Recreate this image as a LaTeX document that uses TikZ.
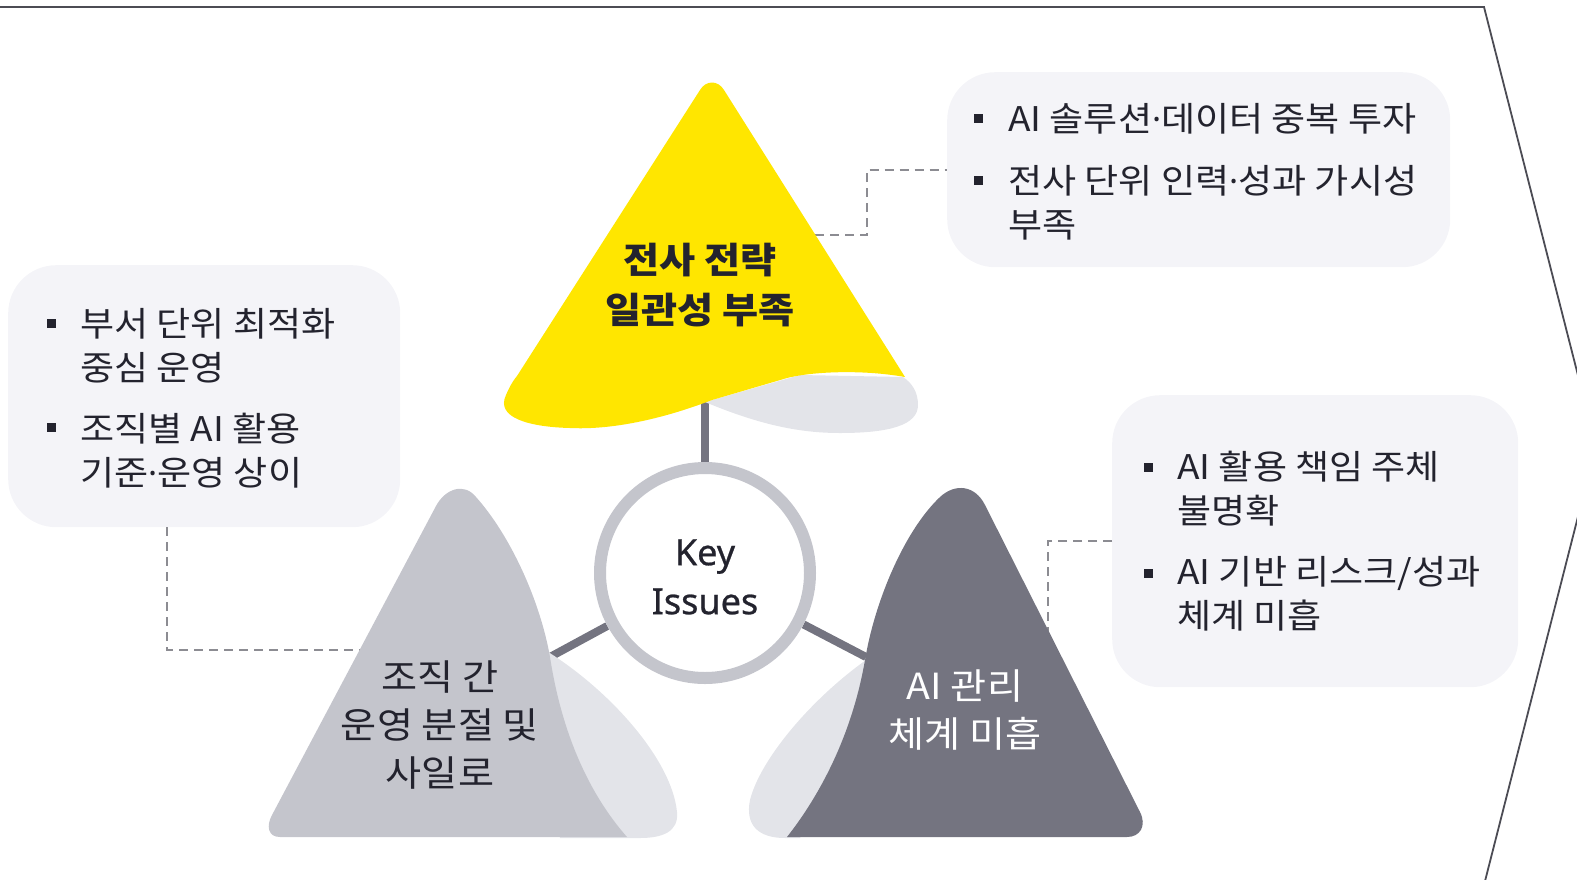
\documentclass[tikz,border=0pt]{standalone}
\usepackage{fontspec}
\setmainfont{Noto Sans CJK KR}[FakeStretch=1.09]
\newfontfamily\latinsans{Noto Sans}
\newfontfamily\keyfont{Noto Sans}[FakeBold=0.7]
\newcommand{\mdot}{{\latinsans ·}}
\definecolor{eyyellow}{HTML}{FFE600}
\definecolor{lobegray}{HTML}{E3E4E9}
\definecolor{midgray}{HTML}{C4C5CC}
\definecolor{darkgray}{HTML}{747480}
\definecolor{boxfill}{HTML}{F4F4F8}
\definecolor{ink}{HTML}{23232E}
\definecolor{dashgray}{HTML}{8C8C92}
\definecolor{framegray}{HTML}{4C4C54}
\begin{document}
\begin{tikzpicture}[x=1pt,y=-1pt,
  boxst/.style={fill=boxfill, rounded corners=48pt, inner sep=0pt, anchor=north west},
  itemtxt/.style={font=\fontsize{34}{44}\selectfont, text=ink, align=left, inner sep=0pt, anchor=base west},
  tritext/.style={align=center, inner sep=0pt, text=ink},
  keyst/.style={circle, draw=midgray, line width=12pt, fill=white, minimum size=210pt, inner sep=0pt,
    align=center, text=ink, font=\keyfont\fontsize{36}{49}\selectfont},
  keyarea/.style={circle, minimum size=222pt, inner sep=0pt},
  dashline/.style={draw=dashgray, line width=2.2pt, dash pattern=on 9pt off 6pt},
  link/.style={draw=darkgray, line width=8pt},
  bulletsq/.style={fill=ink}
]
\useasboundingbox (0,0) rectangle (1577,879);
\clip (0,0) rectangle (1577,879);

% frame
\draw[framegray, line width=1.8pt, line join=miter] (-5,7) -- (1484,7) -- (1596,446) -- (1484,885);

% boxes
\node[boxst, minimum width=503pt, minimum height=195pt] (b1) at (947,72) {};
\node[boxst, minimum width=392pt, minimum height=262pt] (b2) at (8,265) {};
\node[boxst, minimum width=406pt, minimum height=292pt] (b3) at (1112,395) {};

% coordinates
\coordinate (yr) at (815,235);
\coordinate (lx) at (167,0);
\coordinate (gl) at (368,650);
\coordinate (dr) at (1048,645);
\coordinate (ya) at (705,398);
\coordinate (ga) at (550,657);
\coordinate (da) at (866,657);

% dashed connectors
\draw[dashline] (yr) -- (867,235) |- (b1.west);
\draw[dashline] (b2.south -| lx) |- (gl);
\draw[dashline] (b3.west) -| (dr);

% area of the key circle (invisible) for the links
\node[keyarea] (keyzone) at (705,573) {};

% links
\draw[link] (ya) -- (keyzone);
\draw[link] (keyzone) -- (ga);
\draw[link] (keyzone) -- (da);

% top yellow shape
\fill[lobegray] (705,402) .. controls (760,425) and (800,433) .. (840,433) .. controls (890,433) and (918,425) .. (918,405) .. controls (918,392) and (912,383) .. (903,377) -- (800,375) -- cycle;
\fill[eyyellow] (517,376) -- (700,90) .. controls (706,80) and (718,80) .. (724,90) -- (905,377) .. controls (860,369) and (810,372) .. (787,378) -- (712,400) .. controls (660,420) and (610,430) .. (570,428) .. controls (530,427) and (495,418) .. (506,395) .. controls (509,388) and (512,382) .. (517,376) -- cycle;

% lower-left gray shape
\fill[lobegray] (545,650) .. controls (610,690) and (672,760) .. (677,812) .. controls (679,832) and (662,838) .. (640,838) -- (560,838) -- (530,700) -- cycle;
\fill[midgray] (280,837) .. controls (268,837) and (266,826) .. (272,815) -- (436,506) .. controls (445,489) and (464,482) .. (476,497) .. controls (510,535) and (540,600) .. (550,657) .. controls (562,735) and (590,795) .. (627,837) -- cycle;

% lower-right dark shape
\fill[lobegray] (866,660) .. controls (810,700) and (760,760) .. (750,800) .. controls (745,825) and (758,838) .. (785,838) -- (800,838) -- (880,700) -- cycle;
\fill[darkgray] (787,837) .. controls (820,795) and (852,735) .. (865,660) .. controls (875,600) and (905,530) .. (940,497) .. controls (955,483) and (975,485) .. (985,505) -- (1140,812) .. controls (1147,826) and (1140,837) .. (1127,837) -- cycle;

% key circle
\node[keyst] (key) at (keyzone.center) {};
\node[align=center, inner sep=0pt, text=ink, font=\keyfont\fontsize{36}{49}\selectfont] (keytxt) at (705,577) {Key\\Issues};

% triangle labels
\node[tritext, font=\bfseries\fontsize{36}{50}\selectfont] (t1) at (700,285) {전사 전략\\일관성 부족};
\node[tritext, font=\fontsize{36}{48}\selectfont] (t2) at (440,725) {조직 간\\운영 분절 및\\사일로};
\node[tritext, text=white, font=\fontsize{36}{48}\selectfont] (t3) at (965,710) {AI 관리\\체계 미흡};

% box items (anchor = baseline of last line)
\node[itemtxt] (i1a) at (1008,131) {AI 솔루션\mdot 데이터 중복 투자};
\node[itemtxt] (i1b) at (1008,237) {전사 단위 인력\mdot 성과 가시성\\부족};
\node[itemtxt] (i2a) at (80,380) {부서 단위 최적화\\중심 운영};
\node[itemtxt] (i2b) at (80,485) {조직별 AI 활용\\기준\mdot 운영 상이};
\node[itemtxt] (i3a) at (1177,523) {AI 활용 책임 주체\\불명확};
\node[itemtxt] (i3b) at (1177,628) {AI 기반 리스크/성과\\체계 미흡};

% bullets
\foreach \bx/\by in {978/118, 978/180, 51/323, 51/427, 1148/467, 1148/573}
  \fill[bulletsq] (\bx-4.5,\by-4.5) rectangle (\bx+4.5,\by+4.5);
\end{tikzpicture}
\end{document}
